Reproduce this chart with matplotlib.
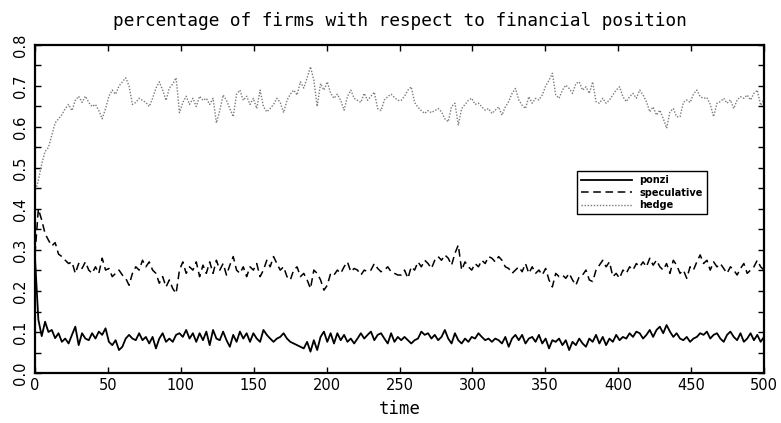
import matplotlib
matplotlib.use("Agg")
import matplotlib.pyplot as plt
import numpy as np
from matplotlib.ticker import MultipleLocator

# share of firms per financial position
ponzi = [
    0.28, 0.13, 0.09, 0.125, 0.10, 0.105, 0.085, 0.097, 0.076, 0.084,
    0.072, 0.093, 0.113, 0.068, 0.097, 0.084, 0.080, 0.097, 0.084, 0.101,
    0.093, 0.109, 0.076, 0.068, 0.080, 0.056, 0.064, 0.084, 0.093, 0.084,
    0.080, 0.097, 0.080, 0.088, 0.072, 0.088, 0.060, 0.084, 0.097, 0.076,
    0.084, 0.076, 0.093, 0.097, 0.088, 0.105, 0.084, 0.097, 0.076, 0.097,
    0.080, 0.101, 0.068, 0.105, 0.084,
    0.080, 0.101, 0.080, 0.064, 0.093, 0.076, 0.101, 0.084, 0.097, 0.076,
    0.097, 0.084, 0.076, 0.105, 0.093, 0.084, 0.076, 0.084, 0.088, 0.097,
    0.084, 0.076, 0.072, 0.068, 0.064, 0.060, 0.076, 0.052, 0.080, 0.056,
    0.088, 0.101, 0.076, 0.097, 0.072, 0.097, 0.080, 0.093, 0.076, 0.084,
    0.072, 0.084, 0.097, 0.084, 0.093, 0.101, 0.080, 0.093, 0.097, 0.084,
    0.072, 0.097, 0.076, 0.088,
    0.080, 0.088, 0.080, 0.072, 0.080, 0.084, 0.101, 0.093, 0.097, 0.084,
    0.093, 0.080, 0.088, 0.105, 0.084, 0.072, 0.097, 0.080, 0.072, 0.084,
    0.076, 0.088, 0.084, 0.097, 0.088, 0.080, 0.084, 0.076, 0.084, 0.080,
    0.072, 0.088, 0.064, 0.084, 0.093, 0.080, 0.093, 0.072, 0.084, 0.088,
    0.076, 0.093, 0.072, 0.084, 0.060, 0.080, 0.076, 0.084, 0.068, 0.080,
    0.056, 0.076, 0.068, 0.084, 0.072,
    0.064, 0.084, 0.076, 0.093, 0.072, 0.088, 0.068, 0.084, 0.076, 0.093,
    0.080, 0.088, 0.084, 0.097, 0.088, 0.101, 0.097, 0.084, 0.093, 0.105,
    0.088, 0.105, 0.113, 0.097, 0.117, 0.101, 0.088, 0.097, 0.084, 0.080,
    0.088, 0.076, 0.084, 0.088, 0.097, 0.093, 0.101, 0.084, 0.093, 0.097,
    0.084, 0.076, 0.093, 0.101, 0.088, 0.080, 0.097, 0.076, 0.084, 0.097,
    0.080, 0.093, 0.076, 0.088,
]

speculative = [
    0.29, 0.40, 0.373, 0.34, 0.324, 0.31, 0.318, 0.29, 0.284, 0.275,
    0.267, 0.271, 0.243, 0.267, 0.255, 0.271, 0.251, 0.243, 0.259, 0.243,
    0.280, 0.251, 0.255, 0.235, 0.243, 0.251, 0.239, 0.231, 0.214, 0.243,
    0.259, 0.251, 0.275, 0.259, 0.271, 0.251, 0.243, 0.219, 0.235, 0.210,
    0.227, 0.206, 0.194, 0.251, 0.271, 0.243, 0.259, 0.251, 0.271, 0.235,
    0.263, 0.243, 0.271, 0.243, 0.275,
    0.251, 0.267, 0.239, 0.263, 0.284, 0.251, 0.243, 0.259, 0.235, 0.259,
    0.251, 0.267, 0.235, 0.251, 0.275, 0.259, 0.284, 0.267, 0.251, 0.259,
    0.235, 0.227, 0.251, 0.259, 0.235, 0.243, 0.227, 0.206, 0.251, 0.243,
    0.227, 0.202, 0.214, 0.243, 0.239, 0.251, 0.243, 0.259, 0.271, 0.247,
    0.255, 0.251, 0.239, 0.251, 0.247, 0.251, 0.267, 0.255, 0.247, 0.251,
    0.259, 0.247, 0.243, 0.239,
    0.239, 0.251, 0.231, 0.259, 0.251, 0.271, 0.259, 0.275, 0.267, 0.255,
    0.275, 0.284, 0.275, 0.288, 0.280, 0.263, 0.292, 0.312, 0.251, 0.271,
    0.259, 0.251, 0.267, 0.259, 0.275, 0.267, 0.284, 0.280, 0.271, 0.284,
    0.275, 0.259, 0.255, 0.243, 0.251, 0.259, 0.247, 0.267, 0.243, 0.259,
    0.243, 0.251, 0.239, 0.255, 0.227, 0.210, 0.243, 0.235, 0.239, 0.231,
    0.243, 0.227, 0.214, 0.235, 0.239,
    0.251, 0.227, 0.223, 0.251, 0.263, 0.275, 0.259, 0.271, 0.235, 0.243,
    0.231, 0.251, 0.243, 0.259, 0.251, 0.267, 0.259, 0.271, 0.259, 0.280,
    0.263, 0.275, 0.259, 0.251, 0.267, 0.243, 0.275, 0.263, 0.243, 0.251,
    0.231, 0.259, 0.251, 0.271, 0.288, 0.267, 0.275, 0.251, 0.271, 0.259,
    0.267, 0.255, 0.243, 0.259, 0.251, 0.239, 0.255, 0.267, 0.243, 0.251,
    0.259, 0.275, 0.259, 0.251,
]

hedge = [
    0.44, 0.47, 0.51, 0.54, 0.55, 0.58, 0.61, 0.62, 0.63, 0.645,
    0.655, 0.64, 0.665, 0.675, 0.66, 0.675, 0.66, 0.65, 0.655, 0.64,
    0.62, 0.645, 0.675, 0.69, 0.68, 0.70, 0.71, 0.72, 0.70, 0.655,
    0.66, 0.67, 0.665, 0.66, 0.65, 0.67, 0.695, 0.71, 0.69, 0.665,
    0.695, 0.705, 0.72, 0.635, 0.66, 0.675, 0.655, 0.67, 0.65, 0.675,
    0.665, 0.67, 0.655, 0.67, 0.61,
    0.64, 0.678, 0.665, 0.645, 0.625, 0.68, 0.69, 0.665, 0.675, 0.655,
    0.67, 0.645, 0.69, 0.65, 0.637, 0.645, 0.655, 0.67, 0.66, 0.635,
    0.665, 0.68, 0.69, 0.678, 0.71, 0.695, 0.72, 0.747, 0.714, 0.65,
    0.706, 0.69, 0.71, 0.682, 0.67, 0.68, 0.665, 0.641, 0.674, 0.69,
    0.67, 0.665, 0.66, 0.682, 0.665, 0.675, 0.685, 0.645, 0.64, 0.666,
    0.674, 0.68, 0.672, 0.665,
    0.665, 0.675, 0.69, 0.698, 0.66, 0.648, 0.64, 0.633, 0.64, 0.635,
    0.64, 0.645, 0.637, 0.62, 0.613, 0.65, 0.658, 0.605, 0.645, 0.655,
    0.665, 0.67, 0.655, 0.658, 0.649, 0.641, 0.645, 0.633, 0.641, 0.649,
    0.629, 0.649, 0.662, 0.682, 0.694, 0.666, 0.653, 0.645, 0.674, 0.658,
    0.67, 0.666, 0.678, 0.70, 0.714, 0.731, 0.678, 0.67, 0.69, 0.702,
    0.694, 0.682, 0.706, 0.71, 0.69,
    0.698, 0.682, 0.71, 0.662, 0.658, 0.67, 0.658, 0.666, 0.678, 0.69,
    0.698, 0.674, 0.662, 0.674, 0.682, 0.67, 0.69, 0.678, 0.662, 0.637,
    0.649, 0.629, 0.641, 0.621, 0.597, 0.637, 0.645, 0.625, 0.625, 0.66,
    0.666, 0.66, 0.68, 0.69, 0.674, 0.67, 0.672, 0.655, 0.625, 0.658,
    0.662, 0.67, 0.658, 0.666, 0.645, 0.666, 0.674, 0.67, 0.678, 0.666,
    0.682, 0.69, 0.653, 0.666,
]

x_ticks = [0, 50, 100, 150, 200, 250, 300, 350, 400, 450, 500]
y_ticks = [0.0, 0.1, 0.2, 0.3, 0.4, 0.5, 0.6, 0.7, 0.8]

# wide, evenly spaced lettering like the original plotting package
mono = ["DejaVu Sans Mono", "DejaVu Sans"]

fig = plt.figure(figsize=(7.81, 4.23), dpi=100)
ax = fig.add_axes([35 / 781, 50 / 423, 729 / 781, 328 / 423])

ax.plot(np.linspace(0, 500, len(ponzi)), ponzi, color="black", lw=1.3,
        label="ponzi")
ax.plot(np.linspace(0, 500, len(speculative)), speculative, color="black",
        lw=1.1, ls=(0, (5, 3)), label="speculative")
ax.plot(np.linspace(0, 500, len(hedge)), hedge, color="#7a7a7a", lw=1.0,
        ls=(0, (1, 1.2)), label="hedge")

ax.set_xlim(0, 500)
ax.set_ylim(0, 0.8)
ax.set_xticks(x_ticks)
ax.set_yticks(y_ticks)
ax.set_yticklabels([f"{v:.1f}" for v in y_ticks], rotation=90, va="center")
ax.yaxis.set_minor_locator(MultipleLocator(0.05))
ax.tick_params(which="both", direction="in", top=True, right=True,
               length=4, width=1, labelsize=10.5)
ax.tick_params(axis="y", pad=5)
for s in ax.spines.values():
    s.set_linewidth(1.6)

ax.set_xlabel("time", fontsize=12.5, labelpad=5, family=mono)
ax.set_title("percentage of firms with respect to financial position",
             fontsize=12.8, pad=14, family=mono)

leg = ax.legend(loc="upper left", bbox_to_anchor=(0.737, 0.63),
                prop={"size": 7, "weight": "bold"},
                handlelength=5.2, labelspacing=0.25, borderpad=0.4,
                handletextpad=0.8, fancybox=False, framealpha=1,
                edgecolor="black")
leg.get_frame().set_linewidth(1.0)

fig.savefig("out.png", dpi=100)
